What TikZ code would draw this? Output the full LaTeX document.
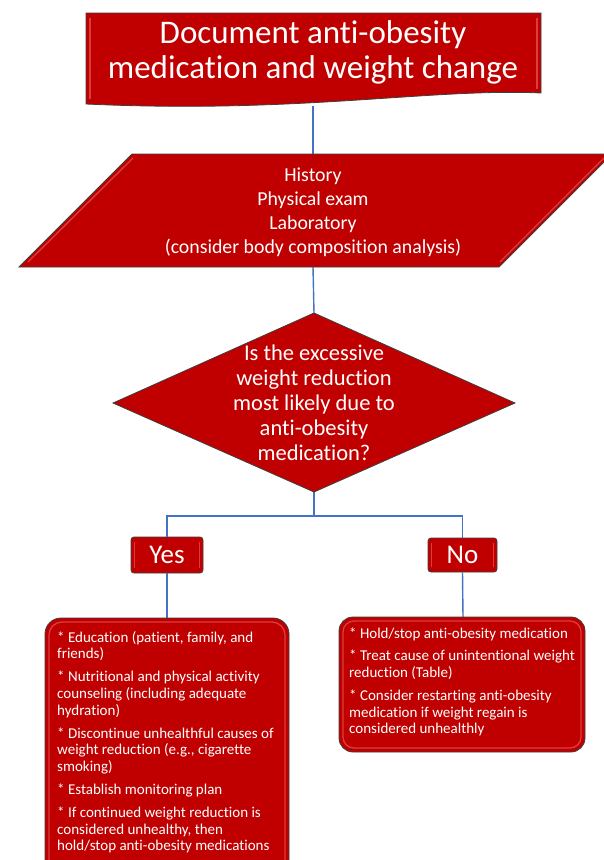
\documentclass[tikz,border=0pt]{standalone}
\usepackage{fontspec}
\setmainfont{Carlito}[Ligatures=NoCommon]
\definecolor{boxred}{HTML}{C00000}
\definecolor{edgegray}{HTML}{3F3F3F}
\definecolor{hilite}{HTML}{F07070}
\definecolor{linkblue}{HTML}{4472C4}
\begin{document}
\begin{tikzpicture}[x=1pt,y=-1pt,
  shapefill/.style={fill=boxred, draw=edgegray, line width=0.8pt},
  bevel/.style={draw=hilite, line width=1.3pt, opacity=0.55},
  link/.style={draw=linkblue, line width=1.4pt},
  txt/.style={text=white, inner sep=0pt, align=center},
  listtxt/.style={text=white, inner sep=0pt, align=left, anchor=north west, font=\fontsize{15}{16.8}\selectfont},
  smallbox/.style={shapefill, rounded corners=3pt, text=white, inner sep=0pt, font=\fontsize{27}{30}\selectfont}]
\useasboundingbox (0,0) rectangle (604,860);
\clip (0,0) rectangle (604,860);

% anchor coordinates
\coordinate (titleb) at (313,106);
\coordinate (histt) at (313,154);
\coordinate (histb) at (313,267);
\coordinate (dtop) at (314,313);
\coordinate (dbot) at (314,492);
\coordinate (split) at (314,516);
\coordinate (leftt) at (167,618);
\coordinate (rightt) at (463,617);

% Yes / No boxes (nodes)
\node[smallbox, minimum width=72pt, minimum height=36pt] (yes) at (167,555) {Yes};
\node[smallbox, minimum width=69pt, minimum height=34pt] (no) at (462.5,555) {No};

% connectors
\draw[link] (titleb) -- (histt);
\draw[link] (histb) -- (dtop);
\draw[link] (dbot) -- (split);
\draw[link] (yes.north) |- (split) -| (no.north);
\draw[link] (yes.south) -- (leftt);
\draw[link] (no.south) -- (rightt);

% title document shape
\draw[shapefill] (86,13) -- (541,13) -- (541,93) .. controls (430,88) and (300,114) .. (86,104) -- cycle;
\draw[bevel] (90,18) -- (90,99);
\draw[bevel] (537,18) -- (537,89);
\node[txt, font=\fontsize{33}{35}\selectfont] (title) at (313,52) {Document anti-obesity\\medication and weight change};

% parallelogram
\draw[shapefill] (132,154) -- (612,154) -- (499,267) -- (19,267) -- cycle;
\draw[bevel] (28,262) -- (133,158);
\draw[bevel] (500,262) -- (604,158);
\node[txt, font=\fontsize{19.8}{24}\selectfont] (hist) at (313,212) {History\\Physical exam\\Laboratory\\(consider body composition analysis)};

% diamond
\draw[shapefill] (314,313) -- (515,403) -- (314,492) -- (113,403) -- cycle;
\node[txt, font=\fontsize{22.5}{25}\selectfont] (question) at (314,402.5) {Is the excessive\\weight reduction\\most likely due to\\anti-obesity\\medication?};

% Yes / No bevels
\draw[bevel] ([xshift=4pt,yshift=-5pt]yes.north west) -- ([xshift=4pt,yshift=5pt]yes.south west);
\draw[bevel] ([xshift=-4pt,yshift=-5pt]yes.north east) -- ([xshift=-4pt,yshift=5pt]yes.south east);
\draw[bevel] ([xshift=4pt,yshift=-5pt]no.north west) -- ([xshift=4pt,yshift=5pt]no.south west);
\draw[bevel] ([xshift=-4pt,yshift=-5pt]no.north east) -- ([xshift=-4pt,yshift=5pt]no.south east);

% left result box
\draw[shapefill, rounded corners=16pt] (45,618) rectangle (289,880);
\draw[bevel, rounded corners=13pt] (49,622) rectangle (285,876);
\node[listtxt] (yestext) at (57,631) {%
* Education (patient, family, and\\
friends)\\[6pt]
* Nutritional and physical activity\\
counseling (including adequate\\
hydration)\\[6pt]
* Discontinue unhealthful causes of\\
weight reduction (e.g., cigarette\\
smoking)\\[6pt]
* Establish monitoring plan\\[6pt]
* If continued weight reduction is\\
considered unhealthy, then\\
hold/stop anti-obesity medications};

% right result box
\draw[shapefill, rounded corners=14pt] (339,617) rectangle (585,752);
\draw[bevel, rounded corners=11pt] (343,621) rectangle (581,748);
\node[listtxt] (notext) at (349,628) {%
* Hold/stop anti-obesity medication\\[5pt]
* Treat cause of unintentional weight\\
reduction (Table)\\[6pt]
* Consider restarting anti-obesity\\
medication if weight regain is\\
considered unhealthly};
\end{tikzpicture}
\end{document}
